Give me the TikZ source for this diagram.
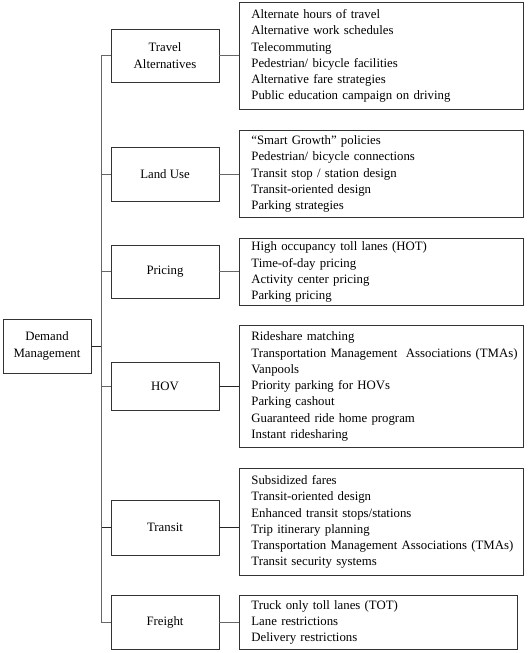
\documentclass[tikz,border=0pt]{standalone}
\usepackage{fontspec}
\setmainfont{Liberation Serif}
\newcommand{\fs}{\fontsize{12.8}{16.3}\selectfont}
\newcommand{\lst}[1]{\begin{tabular}{@{}l@{}}#1\end{tabular}}
\begin{document}
\begin{tikzpicture}[x=1pt,y=-1pt,
  box/.style={draw=black!80, line width=0.8pt, fill=white},
  cat/.style={box, minimum width=108pt, minimum height=53pt, align=center, inner sep=0pt, font=\fs},
  det/.style={box, anchor=north west, text width=260pt, inner xsep=12pt, inner ysep=0pt, align=left, font=\fs},
  link/.style={draw=black!60, line width=0.8pt},
  dlink/.style={draw=black!85, line width=0.8pt}]
\useasboundingbox (0,0) rectangle (528,653);

% root
\node[cat, minimum width=88pt, minimum height=54pt] (dm) at (47,346) {Demand\\Management};

% categories
\node[cat] (ta) at (165,55.5) {Travel\\Alternatives};
\node[cat, minimum height=54pt] (lu) at (165,174) {Land Use};
\node[cat] (pr) at (165,271.5) {Pricing};
\node[cat, minimum height=48pt] (hov) at (165,386) {HOV};
\node[cat, minimum height=55pt] (tr) at (165,527.5) {Transit};
\node[cat, minimum height=54pt] (fr) at (165,622) {Freight};

% detail boxes
\node[det, minimum height=107pt] (d1) at (239,2) {\lst{Alternate hours of travel\\Alternative work schedules\\Telecommuting\\Pedestrian/ bicycle facilities\\Alternative fare strategies\\Public education campaign on driving}};
\node[det, minimum height=87pt] (d2) at (239,130) {\lst{``Smart Growth'' policies\\Pedestrian/ bicycle connections\\Transit stop / station design\\Transit-oriented design\\Parking strategies}};
\node[det, minimum height=67pt] (d3) at (239,238) {\lst{High occupancy toll lanes (HOT)\\Time-of-day pricing\\Activity center pricing\\Parking pricing}};
\node[det, minimum height=122pt] (d4) at (239,325) {\lst{Rideshare matching\\Transportation Management\ \ Associations (TMAs)\\Vanpools\\Priority parking for HOVs\\Parking cashout\\Guaranteed ride home program\\Instant ridesharing}};
\node[det, minimum height=107pt] (d5) at (239,468) {\lst{Subsidized fares\\Transit-oriented design\\Enhanced transit stops/stations\\Trip itinerary planning\\Transportation Management Associations (TMAs)\\Transit security systems}};
\node[det, minimum height=54pt, text width=254pt] (d6) at (239,595) {\lst{Truck only toll lanes (TOT)\\Lane restrictions\\Delivery restrictions}};

% trunk
\coordinate (tk) at (101,346);
\draw[dlink] (dm.east) -- (tk);
\draw[link] (tk) |- (ta.west);
\draw[link] (tk) |- (lu.west);
\draw[link] (tk) |- (pr.west);
\draw[link] (tk) |- (hov.west);
\draw[dlink] (tk) |- (tr.west);
\draw[link] (tk) |- (fr.west);

% category to details
\draw[link] (ta.east) -- (ta.east -| d1.west);
\draw[link] (lu.east) -- (lu.east -| d2.west);
\draw[link] (pr.east) -- (pr.east -| d3.west);
\draw[dlink] (hov.east) -- (hov.east -| d4.west);
\draw[dlink] (tr.east) -- (tr.east -| d5.west);
\draw[link] (fr.east) -- (fr.east -| d6.west);
\end{tikzpicture}
\end{document}
